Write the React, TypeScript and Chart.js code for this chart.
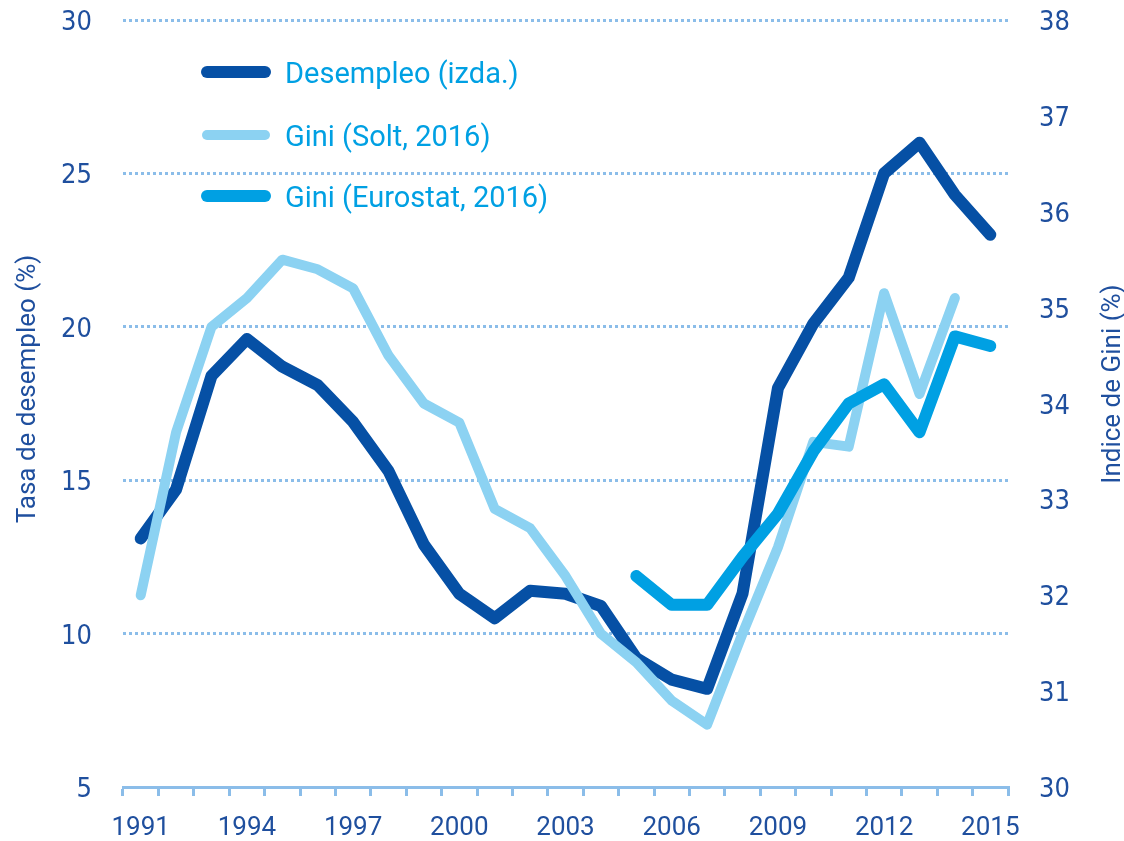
import React, { useEffect, useRef } from "react";
import { Chart, registerables } from "chart.js";

Chart.register(...registerables);

// ---- data ----
const years = [
  "1991", "1992", "1993", "1994", "1995", "1996", "1997", "1998", "1999", "2000",
  "2001", "2002", "2003", "2004", "2005", "2006", "2007", "2008", "2009", "2010",
  "2011", "2012", "2013", "2014", "2015",
];
const xTickLabels = ["1991", "1994", "1997", "2000", "2003", "2006", "2009", "2012", "2015"];

const desempleo = [
  13.1, 14.7, 18.4, 19.6, 18.7, 18.1, 16.9, 15.3, 12.9, 11.3,
  10.5, 11.4, 11.3, 10.9, 9.2, 8.5, 8.2, 11.3, 18.0, 20.1,
  21.6, 25.0, 26.0, 24.3, 23.0,
];
const giniSolt = [
  32.0, 33.7, 34.8, 35.1, 35.5, 35.4, 35.2, 34.5, 34.0, 33.8,
  32.9, 32.7, 32.2, 31.6, 31.3, 30.9, 30.65, 31.6, 32.5, 33.6,
  33.55, 35.15, 34.1, 35.1, null,
];
const giniEurostat = [
  null, null, null, null, null, null, null, null, null, null,
  null, null, null, null, 32.2, 31.9, 31.9, 32.4, 32.85, 33.5,
  34.0, 34.2, 33.7, 34.7, 34.6,
];

const leftTicks = [5, 10, 15, 20, 25, 30];
const rightTicks = [30, 31, 32, 33, 34, 35, 36, 37, 38];

const seriesLabels = ["Desempleo (izda.)", "Gini (Solt, 2016)", "Gini (Eurostat, 2016)"];
const leftTitle = "Tasa de desempleo (%)";
const rightTitle = "Indice de Gini (%)";

// ---- styles ----
const DARK = "#0650a5";
const LIGHT = "#8cd2f2";
const MID = "#00a0e3";
const TEXT = "#1f4f9e";
const GRID = "#8bbde9";
const TICK_FONT = "'DejaVu Sans Condensed', 'DejaVu Sans', sans-serif";
const SANS = "Roboto, 'Open Sans', sans-serif";

const overlayPlugin = {
  id: "overlay",
  afterDatasetsDraw(chart: any) {
    const ctx: CanvasRenderingContext2D = chart.ctx;
    ctx.save();
    // legend
    const rowsY = [72, 135, 196];
    const widths = [12, 10, 12];
    chart.data.datasets.forEach((ds: any, i: number) => {
      const y = rowsY[i];
      ctx.beginPath();
      ctx.lineCap = "round";
      ctx.lineWidth = widths[i];
      ctx.strokeStyle = ds.borderColor;
      ctx.moveTo(207, y);
      ctx.lineTo(265, y);
      ctx.stroke();
      ctx.fillStyle = MID;
      ctx.font = `29px ${SANS}`;
      ctx.textAlign = "left";
      ctx.textBaseline = "middle";
      ctx.fillText(ds.label, 285, y + 4);
    });
    // axis titles
    ctx.fillStyle = TEXT;
    ctx.font = `26px ${SANS}`;
    ctx.textAlign = "center";
    ctx.textBaseline = "alphabetic";
    ctx.save();
    ctx.translate(35, 389);
    ctx.rotate(-Math.PI / 2);
    ctx.fillText(leftTitle, 0, 0);
    ctx.restore();
    ctx.save();
    ctx.translate(1120, 384);
    ctx.rotate(-Math.PI / 2);
    ctx.fillText(rightTitle, 0, 0);
    ctx.restore();
    ctx.restore();
  },
};

export default function App() {
  const ref = useRef<HTMLCanvasElement | null>(null);

  useEffect(() => {
    document.body.style.margin = "0";
    if (!ref.current) return;
    const chart = new Chart(ref.current, {
      type: "line",
      data: {
        labels: years,
        datasets: [
          {
            label: seriesLabels[0],
            data: desempleo,
            yAxisID: "y",
            borderColor: DARK,
            borderWidth: 12,
            order: 3,
          },
          {
            label: seriesLabels[1],
            data: giniSolt,
            yAxisID: "y1",
            borderColor: LIGHT,
            borderWidth: 10,
            order: 2,
          },
          {
            label: seriesLabels[2],
            data: giniEurostat,
            yAxisID: "y1",
            borderColor: MID,
            borderWidth: 12,
            order: 1,
          },
        ].map((d) => ({
          ...d,
          pointRadius: 0,
          pointHoverRadius: 0,
          fill: false,
          tension: 0,
          borderCapStyle: "round" as const,
          borderJoinStyle: "round" as const,
          spanGaps: false,
        })),
      },
      options: {
        responsive: false,
        animation: false,
        devicePixelRatio: 1,
        layout: { padding: { top: 20, left: 0, right: 0, bottom: 0 } },
        plugins: {
          legend: { display: false },
          tooltip: { enabled: false },
          title: { display: false },
        },
        scales: {
          x: {
            type: "category",
            offset: true,
            grid: {
              display: true,
              drawOnChartArea: false,
              drawTicks: true,
              tickLength: 9,
              color: GRID,
              lineWidth: 3,
              offset: true,
            },
            border: { display: true, color: GRID, width: 3 },
            ticks: {
              autoSkip: false,
              maxRotation: 0,
              minRotation: 0,
              padding: 17,
              color: TEXT,
              font: { family: SANS, size: 26 },
              callback: (_v: any, i: number) =>
                xTickLabels.includes(years[i]) ? years[i] : "",
            },
            afterFit: (s: any) => {
              s.height = 54;
              s.paddingLeft = 0;
              s.paddingRight = 0;
            },
          },
          y: {
            type: "linear",
            position: "left",
            min: leftTicks[0],
            max: leftTicks[leftTicks.length - 1],
            afterBuildTicks: (s: any) => {
              s.ticks = leftTicks.map((v) => ({ value: v }));
            },
            grid: {
              drawTicks: false,
              lineWidth: 3,
              color: (c: any) => (c.tick && c.tick.value === leftTicks[0] ? "rgba(0,0,0,0)" : GRID),
            },
            border: { display: false, dash: [3, 3] },
            ticks: {
              padding: 31,
              labelOffset: 3,
              color: TEXT,
              font: { family: TICK_FONT, size: 27 },
            },
            afterFit: (s: any) => {
              s.width = 123;
              s.paddingTop = 0;
              s.paddingBottom = 0;
            },
          },
          y1: {
            type: "linear",
            position: "right",
            min: rightTicks[0],
            max: rightTicks[rightTicks.length - 1],
            afterBuildTicks: (s: any) => {
              s.ticks = rightTicks.map((v) => ({ value: v }));
            },
            grid: { display: false, drawTicks: false },
            border: { display: false },
            ticks: {
              padding: 31,
              labelOffset: 3,
              color: TEXT,
              font: { family: TICK_FONT, size: 27 },
            },
            afterFit: (s: any) => {
              s.width = 116;
              s.paddingTop = 0;
              s.paddingBottom = 0;
            },
          },
        },
      },
      plugins: [overlayPlugin],
    });
    return () => chart.destroy();
  }, []);

  return (
    <div style={{ width: 1124, height: 841, background: "#ffffff" }}>
      <canvas ref={ref} width={1124} height={841} style={{ display: "block" }} />
    </div>
  );
}
